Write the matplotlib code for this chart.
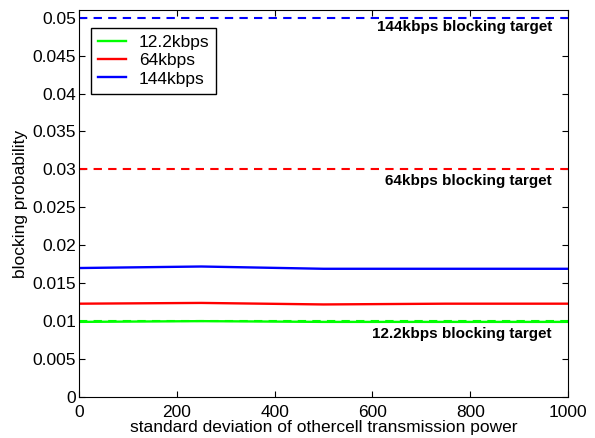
import matplotlib
matplotlib.use("Agg")
import matplotlib.pyplot as plt

plt.rcParams['font.family'] = ['Liberation Sans', 'DejaVu Sans']

x = [0, 250, 500, 750, 1000]
bp_12k = [0.0099, 0.0100, 0.0099, 0.0099, 0.0099]
bp_64k = [0.0123, 0.0124, 0.0122, 0.0123, 0.0123]
bp_144k = [0.0170, 0.0172, 0.0169, 0.0169, 0.0169]
targets = [0.01, 0.03, 0.05]
target_labels = ['12.2kbps blocking target', '64kbps blocking target', '144kbps blocking target']
colors = ['#00ff00', '#ff0000', '#0000ff']

fig = plt.figure(figsize=(5.95, 4.38), dpi=100)
ax = fig.add_axes([0.1328, 0.0936, 0.8218, 0.8834])

for t, c in zip(targets, colors):
    ax.plot([0, 1000], [t, t], color=c, linestyle=(0, (4, 3)), linewidth=1.5)
ax.plot(x, bp_12k, color=colors[0], linewidth=1.7, label='12.2kbps')
ax.plot(x, bp_64k, color=colors[1], linewidth=1.7, label='64kbps')
ax.plot(x, bp_144k, color=colors[2], linewidth=1.7, label='144kbps')

label_y = [0.00826, 0.0285, 0.0488]
for ty, txt in zip(label_y, target_labels):
    ax.text(967, ty, txt, ha='right', va='center', fontsize=11, fontweight='bold')

ax.set_xlim(0, 1000)
ax.set_ylim(0, 0.051)
ax.set_xticks([0, 200, 400, 600, 800, 1000])
ax.set_yticks([0, 0.005, 0.01, 0.015, 0.02, 0.025, 0.03, 0.035, 0.04, 0.045, 0.05])
ax.set_yticklabels(['0', '0.005', '0.01', '0.015', '0.02', '0.025', '0.03', '0.035', '0.04', '0.045', '0.05'])
ax.tick_params(direction='in', top=True, right=True, labelsize=12.5, length=4, pad=2)
ax.tick_params(axis='x', pad=6)
ax.set_xlabel('standard deviation of othercell transmission power', fontsize=12.5, labelpad=0)
ax.set_ylabel('blocking probability', fontsize=12.5, labelpad=3)

leg = ax.legend(loc='upper left', bbox_to_anchor=(0.0245, 0.953), fontsize=12.5, fancybox=False,
                edgecolor='black', framealpha=1, borderpad=0.4, labelspacing=0.17,
                handlelength=1.6, handletextpad=0.75, borderaxespad=0)
leg.get_frame().set_linewidth(1.0)

fig.savefig('out.png', dpi=100)
